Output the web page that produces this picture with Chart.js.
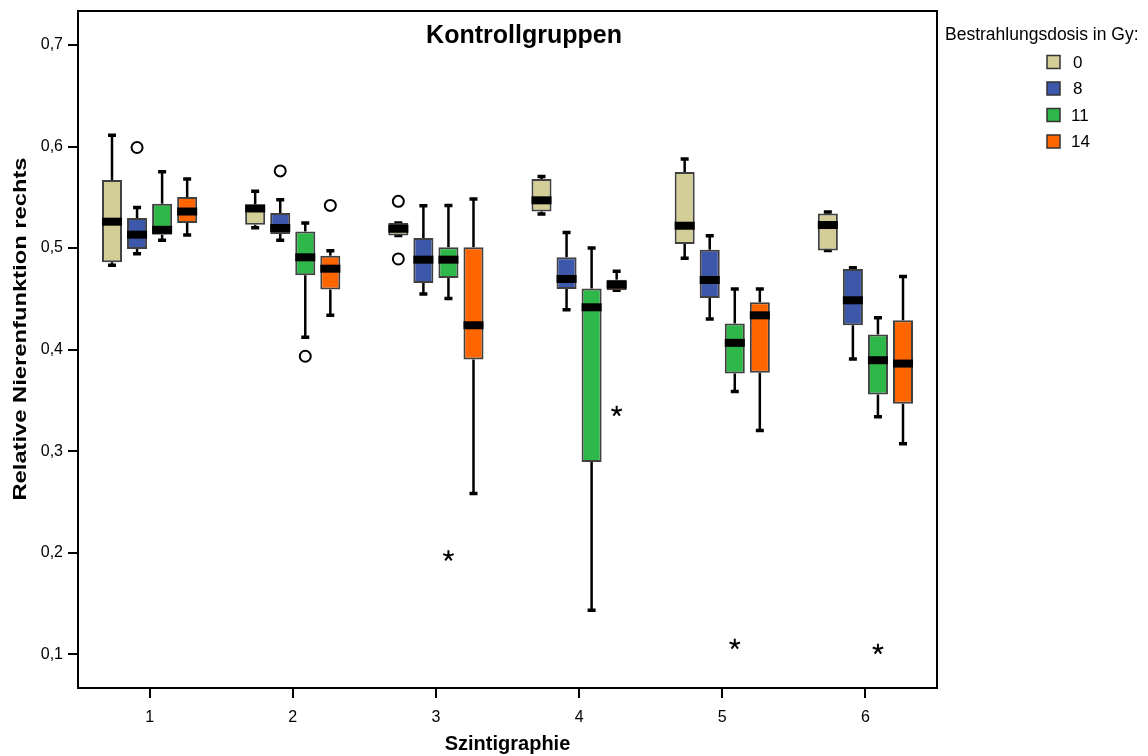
<!DOCTYPE html>
<html>
<head>
<meta charset="utf-8">
<script src="https://cdn.jsdelivr.net/npm/chart.js@4.4.0/dist/chart.umd.min.js"></script>
<style>
  html, body { margin: 0; padding: 0; background: #fff; }
  #wrap { width: 1148px; height: 756px; }
</style>
</head>
<body>
<div id="wrap"><canvas id="chart" width="1148" height="756"></canvas></div>
<script>
const FONT = '"Liberation Sans", Arial, sans-serif';

const scans = ['1', '2', '3', '4', '5', '6'];
const doses = ['0', '8', '11', '14'];
const doseColors = ['#d3ce97', '#3d58ab', '#2fb84a', '#ff6600'];

// [min, q1, median, q3, max] for each Szintigraphie
const dose0 = [
  [0.483, 0.486, 0.526, 0.567, 0.611],
  [0.520, 0.523, 0.539, 0.543, 0.556],
  [0.5125, 0.5125, 0.519, 0.5247, 0.5247],
  [0.5335, 0.536, 0.547, 0.568, 0.5705],
  [0.490, 0.504, 0.522, 0.575, 0.5876],
  [0.4975, 0.4977, 0.5227, 0.5341, 0.5355]
];
const dose8 = [
  [0.4945, 0.4991, 0.5132, 0.5296, 0.540],
  [0.5076, 0.5139, 0.5198, 0.5345, 0.5476],
  [0.4549, 0.4657, 0.4886, 0.510, 0.5417],
  [0.4394, 0.4598, 0.4696, 0.4909, 0.5154],
  [0.4303, 0.4509, 0.4686, 0.4984, 0.5122],
  [0.3909, 0.424, 0.4486, 0.4794, 0.4807]
];
const dose11 = [
  [0.5076, 0.5132, 0.518, 0.5437, 0.5751],
  [0.4122, 0.4732, 0.4909, 0.5164, 0.5247],
  [0.4503, 0.4706, 0.4886, 0.5007, 0.542],
  [0.1435, 0.2893, 0.4417, 0.4601, 0.5001],
  [0.3588, 0.3765, 0.4067, 0.4257, 0.4598],
  [0.3339, 0.3559, 0.3896, 0.4149, 0.4313]
];
const dose14 = [
  [0.5129, 0.5247, 0.536, 0.5502, 0.568],
  [0.4338, 0.4591, 0.4797, 0.4925, 0.4974],
  [0.2585, 0.3903, 0.424, 0.5007, 0.5483],
  [0.4584, 0.4584, 0.464, 0.4689, 0.4771],
  [0.3204, 0.3772, 0.4338, 0.4466, 0.4598],
  [0.3074, 0.3467, 0.3863, 0.4289, 0.4719]
];
const allStats = [dose0, dose8, dose11, dose14];

// [scan index, dose index, value]
const circleOutliers = [
  [0, 1, 0.599],
  [1, 1, 0.576],
  [1, 2, 0.3935],
  [1, 3, 0.542],
  [2, 0, 0.546],
  [2, 0, 0.4893]
];
const starOutliers = [
  [2, 2, 0.197],
  [3, 3, 0.3394],
  [4, 2, 0.110],
  [5, 2, 0.1051]
];

const yTicks = [0.1, 0.2, 0.3, 0.4, 0.5, 0.6, 0.7];

const boxPlugin = {
  id: 'boxes',
  beforeDatasetsDraw(chart) {
    const ctx = chart.ctx;
    const y = chart.scales.y;
    ctx.save();
    ctx.strokeStyle = '#000';
    chart.data.datasets.forEach((ds, i) => {
      const meta = chart.getDatasetMeta(i);
      meta.data.forEach((bar, j) => {
        const s = ds.stats[j];
        ctx.lineWidth = 2.5;
        ctx.beginPath();
        ctx.moveTo(bar.x, y.getPixelForValue(s[3]));
        ctx.lineTo(bar.x, y.getPixelForValue(s[4]));
        ctx.moveTo(bar.x, y.getPixelForValue(s[1]));
        ctx.lineTo(bar.x, y.getPixelForValue(s[0]));
        ctx.stroke();
        ctx.lineWidth = 3.5;
        ctx.beginPath();
        [s[0], s[4]].forEach(v => {
          const py = y.getPixelForValue(v);
          ctx.moveTo(bar.x - 4, py);
          ctx.lineTo(bar.x + 4, py);
        });
        ctx.stroke();
      });
    });
    ctx.restore();
  },
  afterDatasetsDraw(chart) {
    const ctx = chart.ctx;
    const y = chart.scales.y;
    const area = chart.chartArea;
    ctx.save();
    // medians
    ctx.fillStyle = '#000';
    chart.data.datasets.forEach((ds, i) => {
      const meta = chart.getDatasetMeta(i);
      meta.data.forEach((bar, j) => {
        const py = y.getPixelForValue(ds.stats[j][2]);
        ctx.fillRect(bar.x - bar.width / 2, py - 4, bar.width, 8);
      });
    });
    // circle outliers
    ctx.lineWidth = 2;
    ctx.strokeStyle = '#000';
    circleOutliers.forEach(([g, d, v]) => {
      const bar = chart.getDatasetMeta(d).data[g];
      ctx.beginPath();
      ctx.arc(bar.x, y.getPixelForValue(v), 5.5, 0, Math.PI * 2);
      ctx.fillStyle = '#fff';
      ctx.fill();
      ctx.stroke();
    });
    // extreme values
    starOutliers.forEach(([g, d, v]) => {
      const bar = chart.getDatasetMeta(d).data[g];
      const py = y.getPixelForValue(v);
      ctx.beginPath();
      for (let k = 0; k < 5; k++) {
        const a = -Math.PI / 2 + k * 2 * Math.PI / 5;
        ctx.moveTo(bar.x, py);
        ctx.lineTo(bar.x + Math.cos(a) * 5.5, py + Math.sin(a) * 5.5);
      }
      ctx.lineWidth = 2;
      ctx.stroke();
    });
    // frame
    ctx.lineWidth = 2;
    ctx.strokeRect(area.left, area.top, area.right - area.left, area.bottom - area.top);
    ctx.restore();
  },
  afterDraw(chart) {
    const ctx = chart.ctx;
    ctx.save();
    ctx.fillStyle = '#000';
    ctx.textBaseline = 'middle';
    ctx.textAlign = 'center';
    ctx.font = 'bold 25px ' + FONT;
    ctx.fillText('Kontrollgruppen', 524, 36);

    // y axis title
    ctx.save();
    ctx.translate(21, 329);
    ctx.rotate(-Math.PI / 2);
    ctx.scale(1.25, 1);
    ctx.font = 'bold 19px ' + FONT;
    ctx.fillText('Relative Nierenfunktion rechts', 0, 0);
    ctx.restore();

    ctx.textAlign = 'left';
    ctx.font = '17.5px ' + FONT;
    ctx.fillText('Bestrahlungsdosis in Gy:', 945, 35);
    ctx.font = '17px ' + FONT;
    chart.data.datasets.forEach((ds, i) => {
      const cy = 62 + i * 26.5;
      ctx.fillStyle = ds.backgroundColor;
      ctx.fillRect(1047, cy - 6.5, 13, 13);
      ctx.strokeStyle = '#333';
      ctx.lineWidth = 1.5;
      ctx.strokeRect(1047, cy - 6.5, 13, 13);
      ctx.fillStyle = '#000';
      ctx.fillText(ds.label, i < 2 ? 1073 : 1071, cy + 1);
    });
    ctx.restore();
  }
};

new Chart(document.getElementById('chart'), {
  type: 'bar',
  data: {
    labels: scans,
    datasets: doses.map((d, i) => ({
      label: d,
      data: allStats[i].map(s => [s[1], s[3]]),
      stats: allStats[i],
      backgroundColor: doseColors[i],
      borderColor: '#404040',
      borderWidth: 2,
      borderSkipped: false,
      categoryPercentage: 0.7,
      barPercentage: 0.8
    }))
  },
  options: {
    responsive: false,
    animation: false,
    layout: { padding: { left: 0, top: 11, right: 211, bottom: 0 } },
    plugins: { legend: { display: false }, tooltip: { enabled: false } },
    scales: {
      x: {
        grid: { display: true, drawOnChartArea: false, drawTicks: true, tickLength: 10, color: '#000', lineWidth: 2, offset: false },
        border: { display: true, color: '#000', width: 2 },
        ticks: { color: '#000', font: { family: FONT, size: 16 }, padding: 10 },
        title: { display: true, text: 'Szintigraphie', color: '#000', font: { family: FONT, size: 20, weight: 'bold' }, padding: { top: 0, bottom: 0 } },
        afterFit(s) { s.height = 68; s.paddingLeft = 0; s.paddingRight = 0; }
      },
      y: {
        min: 0.0669,
        max: 0.7334,
        afterBuildTicks(s) { s.ticks = yTicks.map(v => ({ value: v })); },
        grid: { display: true, drawOnChartArea: false, drawTicks: true, tickLength: 10, color: '#000', lineWidth: 2 },
        border: { display: true, color: '#000', width: 2 },
        ticks: { color: '#000', font: { family: FONT, size: 16 }, padding: 5, callback: v => v.toFixed(1).replace('.', ',') },
        title: { display: false },
        afterFit(s) { s.width = 78; s.paddingTop = 0; s.paddingBottom = 0; }
      }
    }
  },
  plugins: [boxPlugin]
});
</script>
</body>
</html>
